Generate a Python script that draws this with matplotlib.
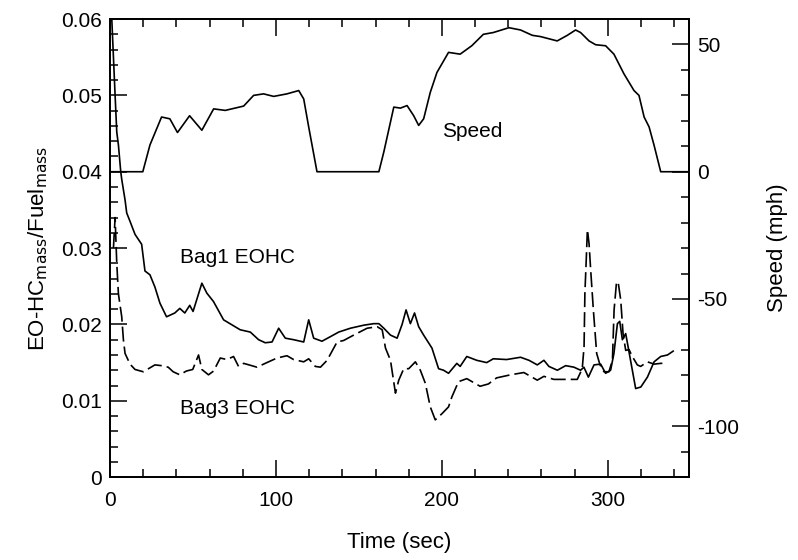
import numpy as np
import matplotlib
matplotlib.use('Agg')
import matplotlib.pyplot as plt
from matplotlib.ticker import MultipleLocator

plt.rcParams['font.family'] = ['Liberation Sans', 'DejaVu Sans']
plt.rcParams['axes.unicode_minus'] = False

# vehicle speed (mph), right axis
speed_t = [0, 19.7, 24, 31, 36, 40.6, 47.9, 55.3, 62.4, 69.4, 80.5, 86.5, 92.5, 98.6,
           106.6, 113.7, 116.7, 119.7, 124.7, 162, 165, 171, 175, 179, 183, 186, 189,
           193, 197, 204, 211, 218, 225, 231, 240.4, 247.4, 254.5, 259.5, 269.5, 275.6,
           280.6, 283.6, 288.7, 292.7, 298.7, 303.7, 309.8, 315.8, 318.8, 321.9, 324.9,
           327.9, 331.9, 350]
speed_v = [0, 0, 10.5, 21.5, 20.8, 15.4, 22, 16.3, 24.7, 24.1, 25.8, 30, 30.6, 29.6,
           30.6, 31.9, 28.6, 17.6, 0, 0, 7.8, 25.4, 25, 26, 22, 18.2, 20.8,
           31.2, 39, 46.9, 46.2, 49.5, 54, 54.7, 56.6, 55.7, 53.6, 53.1, 51.4, 53.6,
           55.7, 54.7, 51.4, 49.9, 49.5, 46.2, 38.4, 31.9, 30, 21.5, 17.6,
           10.4, 0, 0]

# Bag1 EOHC (solid)
bag1_t = [1, 2, 3, 4, 5, 6.4, 7, 9, 10, 12, 15, 19, 21, 24, 27, 30, 34, 39, 42, 45, 48,
          50, 55.3, 58.3, 62.3, 68.4, 78.4, 84.5, 89.5, 93.5, 97.6, 101.6, 105.6, 110.6,
          116.7, 119.7, 122.7, 127.7, 132.8, 137.8, 144.8, 152.9, 158.9, 162, 165, 169,
          173, 176, 178.4, 181, 183.5, 186, 189, 194, 198, 201, 204, 209, 211, 215, 221,
          227, 231, 239, 247.4, 252.5, 257.5, 261.5, 264.5, 269.6, 274.6, 279.6, 283.6,
          285.6, 288.3, 291.7, 295.7, 298.7, 301.7, 303.7, 305.8, 307.2, 308.8, 310.8,
          312.8, 314.8, 316.8, 319.9, 323.9, 327.9, 331.9, 336, 339.4]
bag1_v = [0.060, 0.055, 0.050, 0.0452, 0.0435, 0.040, 0.039, 0.0363, 0.0346, 0.0335,
          0.0318, 0.0305, 0.027, 0.0265, 0.0249, 0.0228, 0.021, 0.0215, 0.0221, 0.0215,
          0.0225, 0.0217, 0.0254, 0.0241, 0.023, 0.0206, 0.0193, 0.019, 0.018, 0.0176,
          0.0177, 0.0195, 0.0182, 0.018, 0.0177, 0.0206, 0.0182, 0.0178, 0.0184, 0.019,
          0.0195, 0.0199, 0.0201, 0.0201, 0.0195, 0.0186, 0.0182, 0.02, 0.0219, 0.0201,
          0.0215, 0.0197, 0.0186, 0.0169, 0.0142, 0.014, 0.0136, 0.0149, 0.0145, 0.0158,
          0.0153, 0.015, 0.0155, 0.0154, 0.0157, 0.0153, 0.0147, 0.0153, 0.0145, 0.014,
          0.0146, 0.0144, 0.014, 0.0144, 0.0131, 0.0147, 0.0148, 0.0136, 0.014, 0.0162,
          0.0201, 0.0204, 0.018, 0.0188, 0.0164, 0.014, 0.0116, 0.0118, 0.0131, 0.0151,
          0.0158, 0.016, 0.0165]

# Bag3 EOHC (dashed)
bag3_t = [2, 3, 4, 5, 7, 8, 9, 12, 15, 20, 27, 31, 35, 38, 42, 46, 49.8, 53.3, 55.3,
          59.3, 62.4, 66.4, 70.4, 74.4, 77.4, 80.5, 88.5, 94.5, 100.6, 106.6, 110.6,
          116.7, 119.7, 123.7, 126.8, 130.8, 136.8, 140.8, 146.8, 154.9, 161, 164, 166,
          169, 172, 174, 177, 180, 184, 187, 190, 193, 196, 200, 204, 206, 210, 215, 223,
          228, 233, 241.4, 249.4, 257.5, 261.5, 267.5, 275.6, 281.6, 284.6, 285.7, 286.2,
          287, 287.7, 288.7, 289.7, 291.3, 293.3, 295.3, 297.7, 300.7, 302.8, 303.8,
          305.2, 306.2, 307.8, 309.2, 310.8, 312.8, 314.8, 317.8, 319.8, 323.9, 327.9,
          331.9, 334.9]
bag3_v = [0.030, 0.034, 0.028, 0.024, 0.021, 0.018, 0.0162, 0.0148, 0.0141, 0.0138,
          0.0147, 0.0146, 0.0144, 0.0138, 0.0134, 0.0139, 0.0141, 0.016, 0.0141, 0.0134,
          0.0139, 0.0156, 0.0154, 0.0158, 0.0145, 0.0149, 0.0144, 0.015, 0.0156, 0.0159,
          0.0154, 0.0151, 0.0155, 0.0145, 0.0144, 0.0153, 0.0177, 0.0179, 0.0186, 0.0195,
          0.0197, 0.0193, 0.0169, 0.0153, 0.011, 0.0127, 0.0142, 0.0142, 0.0151, 0.014,
          0.0123, 0.0092, 0.0075, 0.0083, 0.0092, 0.0105, 0.0125, 0.0129, 0.0119, 0.0122,
          0.013, 0.0134, 0.0137, 0.0127, 0.0132, 0.0128, 0.0128, 0.0128, 0.0142, 0.0171,
          0.0241, 0.0284, 0.0324, 0.0306, 0.0271, 0.0219, 0.0162, 0.0147, 0.0138, 0.0138,
          0.0153, 0.0219, 0.0254, 0.0256, 0.0232, 0.0188, 0.0166, 0.0167, 0.0158, 0.0147,
          0.0145, 0.0151, 0.0148, 0.0149, 0.0149]

fig = plt.figure(figsize=(7.98, 5.6), dpi=100)
ax = fig.add_axes([0.138, 0.148, 0.7255, 0.818])
ax2 = ax.twinx()

ax.plot(bag1_t, bag1_v, color='black', lw=1.2)
ax.plot(bag3_t, bag3_v, color='black', lw=1.2, dashes=(9, 3))
ax2.plot(speed_t, speed_v, color='black', lw=1.2)

ax.set_xlim(0, 349)
ax.set_ylim(0, 0.06)
ax2.set_ylim(-120, 60)

ax.xaxis.set_major_locator(MultipleLocator(100))
ax.xaxis.set_minor_locator(MultipleLocator(20))
ax.yaxis.set_major_locator(MultipleLocator(0.01))
ax.yaxis.set_minor_locator(MultipleLocator(0.002))
ax.yaxis.set_major_formatter(plt.FuncFormatter(lambda v, p: '0' if v == 0 else '%.2f' % v))
ax2.yaxis.set_major_locator(MultipleLocator(50))
ax2.yaxis.set_minor_locator(MultipleLocator(10))

ax.tick_params(which='both', direction='in', top=True, right=False, labelsize=15, width=1.1)
ax.tick_params(which='major', length=12)
ax.tick_params(which='minor', length=6)
ax.tick_params(axis='x', pad=10)
ax.tick_params(axis='y', pad=6)
ax2.tick_params(which='both', direction='in', labelsize=15, width=1.1, pad=6)
ax2.tick_params(which='major', length=12)
ax2.tick_params(which='minor', length=6)

for a in (ax, ax2):
    for s in a.spines.values():
        s.set_linewidth(1.3)

ax.set_xlabel('Time (sec)', fontsize=16, labelpad=16)
ax.set_ylabel('EO-HC$_{\\mathrm{mass}}$/Fuel$_{\\mathrm{mass}}$', fontsize=16, labelpad=8)
ax2.set_ylabel('Speed (mph)', fontsize=16, labelpad=20)

ax.text(218, 0.0453, 'Speed', fontsize=15, ha='center', va='center')
ax.text(76.6, 0.0288, 'Bag1 EOHC', fontsize=15, ha='center', va='center')
ax.text(76.6, 0.0090, 'Bag3 EOHC', fontsize=15, ha='center', va='center')

fig.savefig('out.png', dpi=100)
